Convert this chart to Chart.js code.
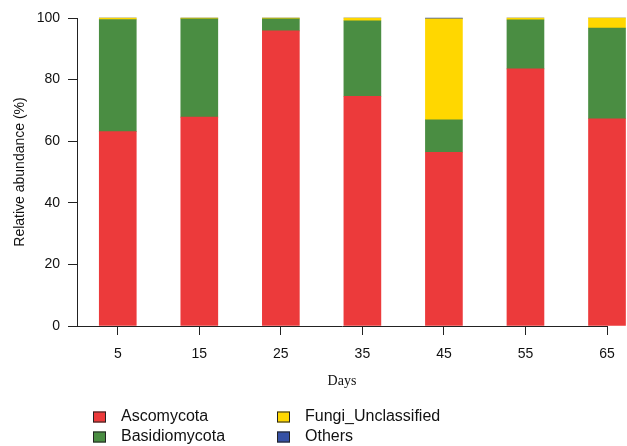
<!DOCTYPE html>
<html>
<head>
<meta charset="utf-8">
<script src="https://cdn.jsdelivr.net/npm/chart.js@4/dist/chart.umd.min.js"></script>
<style>
  html, body { margin: 0; padding: 0; background: #fff; }
  #wrap { width: 627px; height: 446px; position: relative; }
</style>
</head>
<body>
<div id="wrap"><canvas id="c" width="627" height="446"></canvas></div>
<script>
// Sampling days (x axis)
const days = [5, 15, 25, 35, 45, 55, 65];

// Relative abundance (%) of each fungal phylum per sampling day
const ascomycota        = [63.1, 67.8, 95.8, 74.6, 56.4, 83.5, 67.3];
const basidiomycota     = [36.4, 31.9, 3.9, 24.5, 10.5, 15.9, 29.4];
const fungiUnclassified = [0.5, 0.3, 0.3, 0.9, 32.8, 0.6, 3.3];
const others            = [0.0, 0.0, 0.0, 0.0, 0.3, 0.0, 0.0];

const yTicks = [0, 20, 40, 60, 80, 100];

const seriesNames  = ['Ascomycota', 'Basidiomycota', 'Fungi_Unclassified', 'Others'];
const seriesValues = [ascomycota, basidiomycota, fungiUnclassified, others];
const seriesColors = ['#EC3A3B', '#4A8D42', '#FFD700', '#3651A5'];

const SANS = '"Liberation Sans", Arial, sans-serif';
const SERIF = '"Liberation Serif", "Times New Roman", serif';

// Two-column legend under the axis title
const columnLegend = {
  id: 'columnLegend',
  afterDraw(chart) {
    const ctx = chart.ctx;
    const cols = [{ box: 93, text: 121 }, { box: 277, text: 305 }];
    const rows = [417, 437];
    ctx.save();
    ctx.font = '16px ' + SANS;
    ctx.textBaseline = 'middle';
    chart.data.datasets.forEach((ds, i) => {
      const col = cols[Math.floor(i / 2)];
      const y = rows[i % 2];
      ctx.fillStyle = ds.backgroundColor;
      ctx.fillRect(col.box, y - 5.5, 13, 11);
      ctx.strokeStyle = '#222';
      ctx.lineWidth = 1;
      ctx.strokeRect(col.box + 0.5, y - 5, 12, 10);
      ctx.fillStyle = '#111';
      ctx.fillText(ds.label, col.text, y);
    });
    ctx.restore();
  }
};

const datasets = seriesNames.map((name, i) => ({
  label: name,
  data: days.map((d, j) => ({ x: d, y: seriesValues[i][j] })),
  backgroundColor: seriesColors[i],
  borderWidth: 0,
  barThickness: 37,
  clip: false
}));

new Chart(document.getElementById('c'), {
  type: 'bar',
  data: { datasets },
  plugins: [columnLegend],
  options: {
    responsive: false,
    animation: false,
    devicePixelRatio: 1,
    layout: { padding: { top: 18, right: 20, bottom: 52, left: 0 } },
    plugins: {
      legend: { display: false },
      tooltip: { enabled: false }
    },
    scales: {
      x: {
        type: 'linear',
        stacked: true,
        offset: false,
        min: 0,
        max: 65,
        afterBuildTicks(scale) { scale.ticks = days.map(v => ({ value: v })); },
        afterFit(scale) { scale.height = 68; },
        ticks: {
          color: '#111',
          font: { family: SANS, size: 14 },
          padding: 11,
          maxRotation: 0,
          callback: v => String(v)
        },
        grid: { offset: false, drawOnChartArea: false, drawTicks: true, tickLength: 9, color: '#222', tickWidth: 1 },
        border: { display: true, color: '#222', width: 1 },
        title: {
          display: true,
          text: 'Days',
          color: '#111',
          font: { family: SERIF, size: 14 },
          padding: { top: 4, bottom: 4 }
        }
      },
      y: {
        stacked: true,
        min: 0,
        max: 100,
        afterBuildTicks(scale) { scale.ticks = yTicks.map(v => ({ value: v })); },
        afterFit(scale) { scale.width = 77; },
        ticks: {
          color: '#111',
          font: { family: SANS, size: 14 },
          padding: 8
        },
        grid: { drawOnChartArea: false, drawTicks: true, tickLength: 9, color: '#222', tickWidth: 1 },
        border: { display: true, color: '#222', width: 1 },
        title: {
          display: true,
          text: 'Relative abundance (%)',
          color: '#111',
          font: { family: SANS, size: 14 },
          padding: { top: 12, bottom: 0 }
        }
      }
    }
  }
});
</script>
</body>
</html>
